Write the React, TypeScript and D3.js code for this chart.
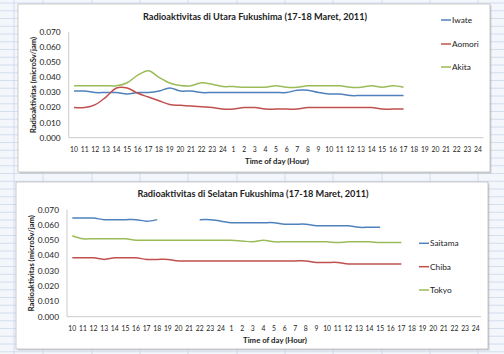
import React from 'react';
import * as d3 from 'd3';

// x categories: 10..24 on 17 March, then 1..24 on 18 March
const hourLabels = [
  '10', '11', '12', '13', '14', '15', '16', '17', '18', '19', '20', '21', '22', '23', '24',
  '1', '2', '3', '4', '5', '6', '7', '8', '9', '10', '11', '12', '13', '14', '15', '16',
  '17', '18', '19', '20', '21', '22', '23', '24',
];
const yTicks = [0, 0.01, 0.02, 0.03, 0.04, 0.05, 0.06, 0.07];

// north of Fukushima (microSv/jam)
const northNames = ['Iwate', 'Aomori', 'Akita'];
const iwate = [
  0.031, 0.031, 0.030, 0.030, 0.030, 0.029, 0.030, 0.030, 0.031, 0.033, 0.031, 0.031, 0.030, 0.030, 0.030,
  0.030, 0.030, 0.030, 0.030, 0.030, 0.030, 0.0315, 0.0315, 0.030, 0.029, 0.029, 0.028, 0.028, 0.028, 0.028, 0.028, 0.028,
];
const aomori = [
  0.020, 0.020, 0.022, 0.027, 0.033, 0.033, 0.0295, 0.027, 0.0245, 0.022, 0.0215, 0.021, 0.0205, 0.020, 0.019,
  0.019, 0.020, 0.020, 0.019, 0.019, 0.019, 0.019, 0.020, 0.020, 0.020, 0.020, 0.020, 0.020, 0.020, 0.019, 0.019, 0.019,
];
const akita = [
  0.0345, 0.0345, 0.0345, 0.0345, 0.0345, 0.0365, 0.0415, 0.0445, 0.040, 0.0363, 0.0347, 0.0345, 0.0365, 0.0355, 0.034,
  0.034, 0.0335, 0.0335, 0.0335, 0.0345, 0.0335, 0.0335, 0.0345, 0.0345, 0.0345, 0.0345, 0.0335, 0.0335, 0.0345, 0.0335, 0.0345, 0.0335,
];

// south of Fukushima (microSv/jam), null = no reading
const southNames = ['Saitama', 'Chiba', 'Tokyo'];
const saitama = [
  0.0645, 0.0645, 0.0645, 0.0635, 0.0635, 0.0635, 0.0635, 0.0625, 0.0635, null, null, null, 0.0635, 0.0635, 0.0625,
  0.0615, 0.0615, 0.0615, 0.0615, 0.0615, 0.0605, 0.0605, 0.0605, 0.0595, 0.0595, 0.0595, 0.0595, 0.0585, 0.0585, 0.0585, null, null,
];
const chiba = [
  0.0385, 0.0385, 0.0385, 0.0375, 0.0385, 0.0385, 0.0385, 0.0375, 0.0375, 0.0375, 0.0365, 0.0365, 0.0365, 0.0365, 0.0365,
  0.0365, 0.0365, 0.0365, 0.0365, 0.0365, 0.0365, 0.0365, 0.0365, 0.0355, 0.0355, 0.0355, 0.0345, 0.0345, 0.0345, 0.0345, 0.0345, 0.0345,
];
const tokyo = [
  0.053, 0.051, 0.051, 0.051, 0.051, 0.051, 0.050, 0.050, 0.050, 0.050, 0.050, 0.050, 0.050, 0.050, 0.050,
  0.050, 0.0495, 0.049, 0.050, 0.049, 0.049, 0.049, 0.049, 0.049, 0.049, 0.0485, 0.049, 0.049, 0.049, 0.0485, 0.0485, 0.0485,
];

const colors = ['#4f81bd', '#c0504d', '#9bbb59'];
const font = 'Lato, "Open Sans", sans-serif';

type PanelProps = {
  box: { x: number; y: number; w: number; h: number };
  plot: { left: number; right: number; top: number; bottom: number };
  title: string;
  titleY: number;
  names: string[];
  series: (number | null)[][];
  legendX: number;
  legendY: number[];
  yTitleX: number;
  xTitleY: number;
};

const Panel = ({ box, plot, title, titleY, names, series, legendX, legendY, yTitleX, xTitleY }: PanelProps) => {
  const x = d3.scaleBand<number>()
    .domain(d3.range(hourLabels.length))
    .range([plot.left, plot.right])
    .padding(0);
  const y = d3.scaleLinear().domain([0, 0.07]).range([plot.bottom, plot.top]);
  const cx = (i: number) => (x(i) as number) + x.bandwidth() / 2;

  const line = d3.line<number | null>()
    .defined((d) => d != null)
    .x((d, i) => cx(i))
    .y((d) => y(d as number))
    .curve(d3.curveCatmullRom);

  return (
    <g>
      <rect x={box.x + 1.5} y={box.y + 1.5} width={box.w} height={box.h} fill="#9a9a9a" opacity={0.4} />
      <rect x={box.x} y={box.y} width={box.w} height={box.h} fill="#fff" stroke="#b5b5b5" strokeWidth={0.7} />
      <text x={(plot.left + plot.right) / 2 - 21} y={titleY} textAnchor="middle" fontSize={9.2} fontWeight="bold" fill="#222">
        {title}
      </text>

      <line x1={plot.left} x2={plot.left} y1={plot.top} y2={plot.bottom} stroke="#bcbcbc" strokeWidth={0.8} />
      <line x1={plot.left} x2={plot.right} y1={plot.bottom} y2={plot.bottom} stroke="#bcbcbc" strokeWidth={0.8} />

      {yTicks.map((t) => (
        <text key={t} x={plot.left - 8} y={y(t)} dy="0.35em" textAnchor="end" fontSize={8.3} fill="#222">
          {d3.format('.3f')(t)}
        </text>
      ))}
      {hourLabels.map((h, i) => (
        <text key={i} x={cx(i)} y={plot.bottom + 12} dy="0.35em" textAnchor="middle" fontSize={6.8} fill="#222">
          {h}
        </text>
      ))}

      <text
        transform={`translate(${yTitleX},${(plot.top + plot.bottom) / 2}) rotate(-90)`}
        textAnchor="middle" dy="0.35em" fontSize={7.6} fontWeight="bold" fill="#222"
      >
        Radioaktivitas (microSv/jam)
      </text>
      <text x={(plot.left + plot.right) / 2 + 1} y={xTitleY} dy="0.35em" textAnchor="middle" fontSize={7.8} fontWeight="bold" fill="#222">
        Time of day (Hour)
      </text>

      {series.map((s, k) => (
        <path key={names[k]} d={line(s) || ''} fill="none" stroke={colors[k]} strokeWidth={1.5} />
      ))}

      {names.map((n, k) => (
        <g key={n}>
          <line x1={legendX} x2={legendX + 10} y1={legendY[k]} y2={legendY[k]} stroke={colors[k]} strokeWidth={1.5} />
          <text x={legendX + 11} y={legendY[k]} dy="0.35em" fontSize={8.3} fill="#222">{n}</text>
        </g>
      ))}
    </g>
  );
};

const App = () => {
  const W = 504;
  const H = 354;
  const rowLines = d3.range(3, H, 7.75);
  const colLines = [14, 43, 92, 140, 188, 237, 285, 333, 382, 430, 478];

  return (
    <svg width={W} height={H} style={{ position: 'absolute', left: 0, top: 0, fontFamily: font }}>
      <rect width={W} height={H} fill="#f3f6fb" />
      {rowLines.map((r) => (
        <line key={'r' + r} x1={0} x2={W} y1={r} y2={r} stroke="#cbd8ec" strokeWidth={0.8} />
      ))}
      {colLines.map((c) => (
        <line key={'c' + c} x1={c} x2={c} y1={0} y2={H} stroke="#cbd8ec" strokeWidth={0.8} />
      ))}

      <Panel
        box={{ x: 18, y: 4, w: 472, h: 168 }}
        plot={{ left: 68.7, right: 483.3, top: 32.3, bottom: 137.7 }}
        title="Radioaktivitas di Utara Fukushima (17-18 Maret, 2011)"
        titleY={20}
        names={northNames}
        series={[iwate, aomori, akita]}
        legendX={441}
        legendY={[20, 44, 67]}
        yTitleX={33}
        xTitleY={161}
      />
      <Panel
        box={{ x: 16, y: 182, w: 472, h: 167 }}
        plot={{ left: 67, right: 481, top: 209.7, bottom: 316.7 }}
        title="Radioaktivitas di Selatan Fukushima (17-18 Maret, 2011)"
        titleY={197}
        names={southNames}
        series={[saitama, chiba, tokyo]}
        legendX={419}
        legendY={[243.3, 266.7, 290]}
        yTitleX={31}
        xTitleY={340}
      />
    </svg>
  );
};

export default App;
